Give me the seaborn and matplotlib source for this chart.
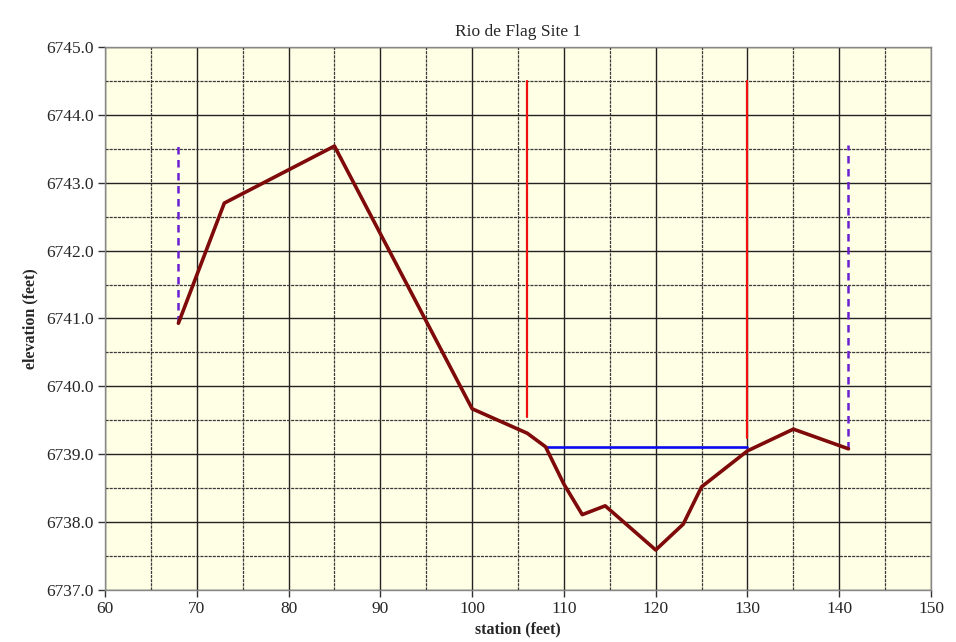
import matplotlib
matplotlib.use("Agg")
import matplotlib.pyplot as plt
import seaborn as sns
import pandas as pd
from matplotlib.ticker import MultipleLocator, FormatStrFormatter

# Surveyed cross-section: station (ft) vs ground elevation (ft)
station = [68, 73, 85, 100, 106, 108, 110, 112, 114.5, 120, 123, 125, 130, 135, 141]
elevation = [6740.93, 6742.70, 6743.54, 6739.67, 6739.31, 6739.11, 6738.56, 6738.11,
             6738.24, 6737.59, 6737.97, 6738.52, 6739.05, 6739.37, 6739.08]

# Bankfull markers (red), endpoint pins (purple dashed), water surface (blue)
bank_station = [106, 130]
bank_bottom = [6739.55, 6739.24]
bank_top = 6744.5
pin_station = [68, 141]
pin_bottom = [6740.93, 6739.08]
pin_top = 6743.55
water_x = [108, 130]
water_y = [6739.11, 6739.11]

sns.set_style("ticks")
plt.rcParams["font.family"] = ["Liberation Serif", "DejaVu Serif"]

fig = plt.figure(figsize=(9.56, 6.42), dpi=100)
ax = fig.add_axes([0.1098, 0.0810, 0.8641, 0.8458])
ax.set_facecolor("#FFFFE6")

profile = pd.DataFrame({"station": station, "elevation": elevation})

for x, y0 in zip(pin_station, pin_bottom):
    ax.plot([x, x], [y0, pin_top], color="#6B1FD0", lw=1.8, ls=(0, (3, 2.2)), zorder=3)
for x, y0 in zip(bank_station, bank_bottom):
    ax.plot([x, x], [y0, bank_top], color="#F01010", lw=1.6, zorder=3)
ax.plot(water_x, water_y, color="#0A0AF0", lw=1.9, zorder=3)

sns.lineplot(data=profile, x="station", y="elevation", sort=False, estimator=None,
             color="#7E0A0A", lw=2.6, ax=ax, zorder=4)

ax.set_xlim(60, 150)
ax.set_ylim(6737, 6745)
ax.xaxis.set_major_locator(MultipleLocator(10))
ax.xaxis.set_minor_locator(MultipleLocator(5))
ax.yaxis.set_major_locator(MultipleLocator(1))
ax.yaxis.set_minor_locator(MultipleLocator(0.5))
ax.yaxis.set_major_formatter(FormatStrFormatter("%.1f"))

ax.grid(which="major", color="#222222", lw=1.0)
ax.grid(which="minor", color="#3a3a3a", lw=0.9, ls=(0, (2.5, 0.8)))
ax.set_axisbelow(True)

for s in ax.spines.values():
    s.set_color("#888888")
    s.set_linewidth(1.0)

ax.tick_params(axis="both", which="major", direction="out", length=5, width=1,
               color="#333333", labelsize=12.5, pad=3)
ax.tick_params(axis="both", which="minor", length=0)

ax.set_title("Rio de Flag Site 1", fontsize=12.5, pad=8)
ax.set_xlabel("station (feet)", fontsize=11.5, fontweight="bold", labelpad=3)
ax.set_ylabel("elevation (feet)", fontsize=11.5, fontweight="bold", labelpad=6)

fig.savefig("out.png", dpi=100, facecolor="white")
